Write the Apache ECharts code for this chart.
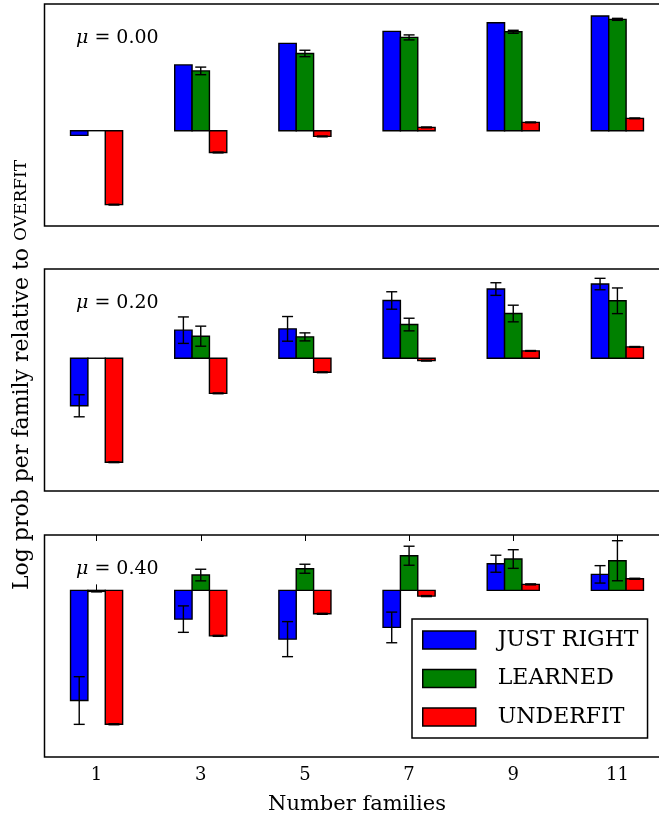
<!DOCTYPE html>
<html>
<head>
<meta charset="utf-8">
<script src="https://cdn.jsdelivr.net/npm/echarts@6/dist/echarts.min.js"></script>
<style>
  html, body { margin: 0; padding: 0; background: #fff; }
  #chart { width: 659px; height: 817px; }
</style>
</head>
<body>
<div id="chart"></div>
<script>
// Number of families on the x axis
const families = [1, 3, 5, 7, 9, 11];
const tickLabels = ['1', '3', '5', '7', '9', '11'];
const seriesNames = ['JUST RIGHT', 'LEARNED', 'UNDERFIT'];
const muLabels = ['0.00', '0.20', '0.40'];

// mu = 0.00
const justRightMu0 = [-0.047, 0.656, 0.870, 0.990, 1.076, 1.143];
const justRightMu0Err = [0, 0, 0, 0, 0, 0];
const learnedMu0 = [0, 0.596, 0.770, 0.930, 0.986, 1.110];
const learnedMu0Err = [0, 0.038, 0.032, 0.025, 0.015, 0.010];
const underfitMu0 = [-0.737, -0.217, -0.057, 0.033, 0.083, 0.123];
const underfitMu0Err = [0.004, 0.004, 0.004, 0.004, 0.004, 0.004];

// mu = 0.20
const justRightMu2 = [-0.474, 0.280, 0.293, 0.576, 0.690, 0.740];
const justRightMu2Err = [0.110, 0.132, 0.123, 0.087, 0.063, 0.057];
const learnedMu2 = [0, 0.220, 0.213, 0.336, 0.446, 0.573];
const learnedMu2Err = [0, 0.100, 0.040, 0.063, 0.083, 0.128];
const underfitMu2 = [-1.037, -0.350, -0.140, -0.024, 0.073, 0.113];
const underfitMu2Err = [0.004, 0.004, 0.004, 0.004, 0.004, 0.004];

// mu = 0.40
const justRightMu4 = [-1.100, -0.287, -0.487, -0.370, 0.266, 0.160];
const justRightMu4Err = [0.238, 0.132, 0.175, 0.153, 0.085, 0.087];
const learnedMu4 = [-0.010, 0.153, 0.216, 0.346, 0.313, 0.296];
const learnedMu4Err = [0.005, 0.058, 0.045, 0.095, 0.093, 0.200];
const underfitMu4 = [-1.337, -0.454, -0.234, -0.057, 0.060, 0.116];
const underfitMu4Err = [0.005, 0.005, 0.005, 0.005, 0.005, 0.005];

// y-axis limits of each panel
const yMin = [-0.950, -1.324, -1.664];
const yMax = [1.263, 0.890, 0.553];

const panels = [
  { values: [justRightMu0, learnedMu0, underfitMu0], errors: [justRightMu0Err, learnedMu0Err, underfitMu0Err] },
  { values: [justRightMu2, learnedMu2, underfitMu2], errors: [justRightMu2Err, learnedMu2Err, underfitMu2Err] },
  { values: [justRightMu4, learnedMu4, underfitMu4], errors: [justRightMu4Err, learnedMu4Err, underfitMu4Err] }
];

const colors = ['#0000ff', '#008000', '#ff0000'];
const barOffsets = [-1 / 3, 0, 1 / 3];
const FONT = 'DejaVu Serif';

// x positions 0..12 as an ordinal axis so only odd counts get ticks
const xSlots = Array.from({ length: 13 }, (_, i) => String(i));
const showTick = (idx) => tickLabels.indexOf(String(idx)) >= 0;

const gridTops = [4, 269, 535];
const gridHeight = 222;

// the plot area runs past the right edge of the canvas
const grids = gridTops.map(t => ({
  left: 44.5, width: 625, top: t, height: gridHeight,
  outerBoundsMode: 'none', containLabel: false,
  show: true, borderColor: '#000', borderWidth: 1.5, backgroundColor: 'transparent'
}));

const xAxes = [];
const yAxes = [];
for (let p = 0; p < 3; p++) {
  const last = p === 2;
  xAxes.push({
    type: 'category', gridIndex: p, data: xSlots, boundaryGap: false,
    axisLine: { show: false },
    axisTick: { show: last, inside: true, length: 6, interval: showTick, lineStyle: { color: '#000', width: 1 } },
    axisLabel: { show: last, interval: showTick, margin: 9, color: '#000', fontFamily: FONT, fontSize: 18 },
    splitLine: { show: false },
    name: last ? 'Number families' : '',
    nameLocation: 'middle', nameGap: 37,
    nameTextStyle: { color: '#000', fontFamily: FONT, fontSize: 21 }
  });
  yAxes.push({
    type: 'value', gridIndex: p, min: yMin[p], max: yMax[p],
    axisLine: { show: false }, axisTick: { show: false }, axisLabel: { show: false },
    splitLine: { show: false }
  });
}
// top-edge ticks of the lowest panel
xAxes.push({
  type: 'category', gridIndex: 2, position: 'top', data: xSlots, boundaryGap: false,
  axisLine: { show: false },
  axisTick: { show: true, inside: true, length: 6, interval: showTick, lineStyle: { color: '#000', width: 1 } },
  axisLabel: { show: false }, splitLine: { show: false }
});

function renderBar(offset, color) {
  return function (params, api) {
    const x = api.value(0);
    const v = api.value(1);
    const e = api.value(2);
    const base = api.coord([x, 0]);
    const unit = api.coord([x + 1, 0])[0] - base[0];
    const w = unit / 3;
    const cx = base[0] + offset * unit;
    const top = api.coord([x, v])[1];
    const y0 = Math.min(base[1], top);
    const h = Math.max(Math.abs(top - base[1]), 0.01);
    const children = [{
      type: 'rect',
      shape: { x: cx - w / 2, y: y0, width: w, height: h },
      style: { fill: color, stroke: '#000', lineWidth: 1.4 }
    }];
    if (e > 0) {
      const yLo = api.coord([x, v - e])[1];
      const yHi = api.coord([x, v + e])[1];
      const cap = 5.5;
      const ls = { stroke: '#000', lineWidth: 1.4 };
      children.push(
        { type: 'line', shape: { x1: cx, y1: yLo, x2: cx, y2: yHi }, style: ls },
        { type: 'line', shape: { x1: cx - cap, y1: yLo, x2: cx + cap, y2: yLo }, style: ls },
        { type: 'line', shape: { x1: cx - cap, y1: yHi, x2: cx + cap, y2: yHi }, style: ls }
      );
    }
    return { type: 'group', children };
  };
}

const series = [];
panels.forEach((panel, p) => {
  for (let s = 0; s < 3; s++) {
    series.push({
      type: 'custom',
      name: seriesNames[s],
      xAxisIndex: p, yAxisIndex: p,
      itemStyle: { color: colors[s], borderColor: '#000', borderWidth: 1.5 },
      renderItem: renderBar(barOffsets[s], colors[s]),
      data: families.map((f, i) => [f, panel.values[s][i], panel.errors[s][i]]),
      animation: false, silent: true
    });
  }
});

const graphics = muLabels.map((m, p) => ({
  type: 'text', left: 76, top: gridTops[p] + 25,
  style: {
    text: '{i|μ} = ' + m,
    fill: '#000', font: '19px "' + FONT + '"',
    rich: { i: { fontStyle: 'italic', fontFamily: FONT, fontSize: 19 } }
  }
}));
graphics.push({
  type: 'text', x: 22, y: 375, rotation: Math.PI / 2,
  style: {
    text: 'Log prob per family relative to {sc|OVERFIT}',
    fill: '#000', font: '22px "' + FONT + '"',
    align: 'center', verticalAlign: 'middle',
    rich: { sc: { fontFamily: FONT, fontSize: 17 } }
  }
});

const chart = echarts.init(document.getElementById('chart'), null, { renderer: 'canvas' });
chart.setOption({
  animation: false,
  backgroundColor: '#fff',
  grid: grids,
  xAxis: xAxes,
  yAxis: yAxes,
  series,
  graphic: graphics,
  legend: {
    data: seriesNames,
    orient: 'vertical', left: 412, top: 619,
    itemWidth: 53, itemHeight: 18, itemGap: 16.5,
    icon: 'rect',
    backgroundColor: '#fff', borderColor: '#000', borderWidth: 1.5,
    padding: [10, 9, 10, 10],
    itemStyle: { borderColor: '#000', borderWidth: 1.5 },
    textStyle: { color: '#000', fontFamily: FONT, fontSize: 22, padding: [0, 0, 0, 17] },
    selectedMode: false, z: 10
  }
});
</script>
</body>
</html>
